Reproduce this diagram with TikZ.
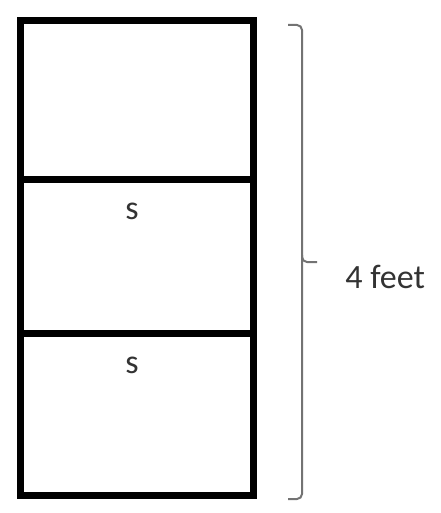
\documentclass[tikz,border=0pt]{standalone}
\usepackage{fontspec}
\setmainfont{Carlito}
\usetikzlibrary{positioning}
\tikzset{
    wall/.style={draw=black, line width=3.5pt},
    bracket/.style={draw=black!55, line width=1pt, rounded corners=2.5pt},
    tag/.style={font=\fontsize{17}{20}\selectfont, text=black!80, inner sep=0pt}
}
\begin{document}
\begin{tikzpicture}[x=0.5pt,y=-0.5pt]
	\useasboundingbox (0,0) rectangle (440,513);
	% the column of boxes
	\draw[wall] (20,21) rectangle (253,495);
	\draw[wall] (20,180)--(253,180);
	\draw[wall] (20,333)--(253,333);
	\node[tag,anchor=base] (s1) at (132,220) {s};
	\node[tag,anchor=base] (s2) at (132,373) {s};
	% brace on the right
	\coordinate (top) at (288,25);
	\coordinate (bot) at (288,499);
	\coordinate (tip) at (317,262);
	\draw[bracket] (top) -- (302,25) -- (302,499) -- (bot);
	\draw[bracket] (302,255) -- (302,262) -- (tip);
	\node[tag,anchor=base west] (len) at (345,288) {4 feet};
\end{tikzpicture}
\end{document}
